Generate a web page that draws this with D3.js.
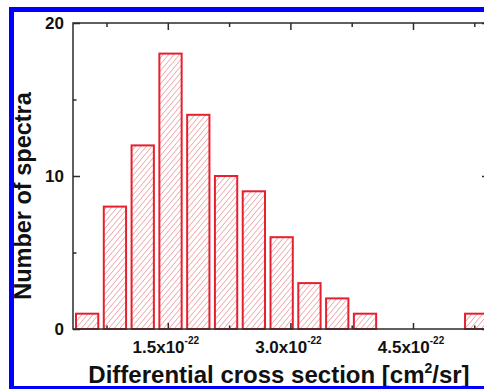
<!DOCTYPE html>
<html>
<head>
<meta charset="utf-8">
<script src="https://cdn.jsdelivr.net/npm/d3@7"></script>
<style>
  body { margin: 0; background: #fff; }
  svg { display: block; font-family: Arial, "Liberation Sans", sans-serif; }
</style>
</head>
<body>
<svg id="chart" width="484" height="389"></svg>
<script>
// histogram bins, x in units of 1e-22 cm^2/sr
const binStarts = [0.34, 0.68, 1.02, 1.36, 1.70, 2.04, 2.38, 2.72, 3.06, 3.40, 3.74, 4.08, 4.42, 4.76, 5.10]
const binWidth = 0.34
const counts = [1, 8, 12, 18, 14, 10, 9, 6, 3, 2, 1, 0, 0, 0, 1]

const xMajor = [1.5, 3.0, 4.5]
const xMinor = [0.75, 2.25, 3.75, 5.25]
const yMajor = [0, 10, 20]
const yMinor = [5, 15]

const svg = d3.select("#chart")
const W = 484, H = 389
const plot = { left: 73, right: 489, top: 23, bottom: 329 }

const x = d3.scaleLinear().domain([0.34, 5.43]).range([plot.left, plot.right])
const y = d3.scaleLinear().domain([0, 20]).range([plot.bottom, plot.top])

svg.append("rect").attr("width", W).attr("height", H).attr("fill", "#fff")

// hatch pattern for the bars
const defs = svg.append("defs")
defs.append("pattern")
    .attr("id", "hatch")
    .attr("patternUnits", "userSpaceOnUse")
    .attr("width", 4.2).attr("height", 4.2)
    .attr("patternTransform", "rotate(40)")
    .append("line")
    .attr("x1", 0).attr("y1", 0).attr("x2", 0).attr("y2", 4.2)
    .attr("stroke", "#e47880").attr("stroke-width", 1.1)

// bars
svg.append("g").selectAll("rect")
    .data(counts.map((c, i) => ({ x0: binStarts[i], c })).filter(d => d.c > 0))
    .join("rect")
    .attr("x", d => x(d.x0) + 3)
    .attr("y", d => y(d.c))
    .attr("width", d => x(d.x0 + binWidth) - x(d.x0) - 5.5)
    .attr("height", d => y(0) - y(d.c))
    .attr("fill", "url(#hatch)")
    .attr("stroke", "#e6212f")
    .attr("stroke-width", 2)

// axes, ticks pointing inward
const axisColor = "#2b2b2b"
function styleAxis(g) {
    g.select(".domain").remove()
    g.selectAll("line").attr("stroke", axisColor).attr("stroke-width", 1.5)
    g.selectAll("text").remove()
}
svg.append("g").attr("transform", `translate(0,${plot.bottom})`)
    .call(d3.axisBottom(x).tickValues(xMajor).tickSize(-6)).call(styleAxis)
svg.append("g").attr("transform", `translate(0,${plot.bottom})`)
    .call(d3.axisBottom(x).tickValues(xMinor).tickSize(-3.5)).call(styleAxis)
svg.append("g").attr("transform", `translate(0,${plot.top})`)
    .call(d3.axisTop(x).tickValues(xMajor).tickSize(-7)).call(styleAxis)
svg.append("g").attr("transform", `translate(0,${plot.top})`)
    .call(d3.axisTop(x).tickValues(xMinor).tickSize(-4)).call(styleAxis)
svg.append("g").attr("transform", `translate(${plot.left},0)`)
    .call(d3.axisLeft(y).tickValues(yMajor).tickSize(-7)).call(styleAxis)
svg.append("g").attr("transform", `translate(${plot.left},0)`)
    .call(d3.axisLeft(y).tickValues(yMinor).tickSize(-3.5)).call(styleAxis)
svg.append("g").attr("transform", `translate(${plot.right},0)`)
    .call(d3.axisRight(y).tickValues(yMajor).tickSize(-7)).call(styleAxis)
svg.append("g").attr("transform", `translate(${plot.right},0)`)
    .call(d3.axisRight(y).tickValues(yMinor).tickSize(-3.5)).call(styleAxis)

// frame
svg.append("rect")
    .attr("x", plot.left).attr("y", plot.top)
    .attr("width", plot.right - plot.left).attr("height", plot.bottom - plot.top)
    .attr("fill", "none").attr("stroke", axisColor).attr("stroke-width", 1.5)

// y tick labels
svg.append("g").selectAll("text")
    .data(yMajor)
    .join("text")
    .attr("x", plot.left - 9)
    .attr("y", d => y(d))
    .attr("dy", "0.36em")
    .attr("text-anchor", "end")
    .attr("font-size", 17).attr("font-weight", "bold").attr("fill", "#111")
    .text(d => d)

// x tick labels, "1.5x10^-22"
const xl = svg.append("g").selectAll("text")
    .data(xMajor)
    .join("text")
    .attr("x", d => x(d) - 2)
    .attr("y", 353)
    .attr("text-anchor", "middle")
    .attr("font-size", 17).attr("font-weight", "bold").attr("fill", "#111")
xl.append("tspan").text(d => d.toFixed(1) + "x10")
xl.append("tspan").attr("dy", -9).attr("font-size", 10).text("-22")

// axis titles
const xt = svg.append("text")
    .attr("x", 279).attr("y", 383)
    .attr("text-anchor", "middle")
    .attr("font-size", 24).attr("font-weight", "bold").attr("fill", "#111")
xt.append("tspan").text("Differential cross section [cm")
xt.append("tspan").attr("dy", -10).attr("font-size", 14).text("2")
xt.append("tspan").attr("dy", 10).text("/sr]")

svg.append("text")
    .attr("transform", "translate(31,196) rotate(-90)")
    .attr("text-anchor", "middle")
    .attr("font-size", 23.5).attr("font-weight", "bold").attr("fill", "#111")
    .text("Number of spectra")

// blue outer border (cropped on the right)
svg.append("rect")
    .attr("x", 11.5).attr("y", 9.5)
    .attr("width", 600).attr("height", 379)
    .attr("fill", "none").attr("stroke", "#0000ff").attr("stroke-width", 5)
</script>
</body>
</html>
